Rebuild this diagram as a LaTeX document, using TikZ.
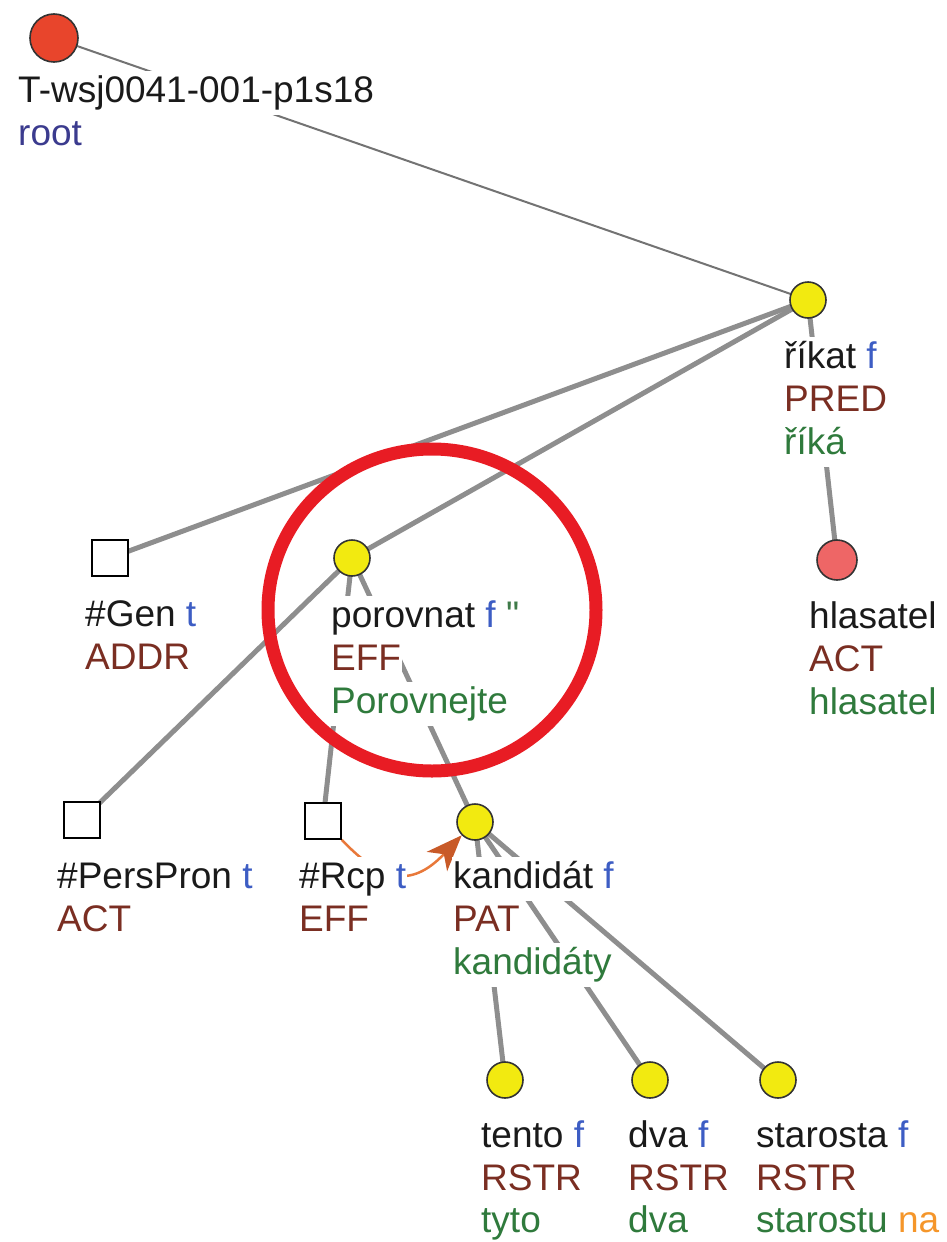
\documentclass[tikz,border=0pt]{standalone}
\usepackage{fontspec}
\setmainfont{Liberation Sans}
\newfontfamily\plainquote{Liberation Sans}
\usetikzlibrary{arrows.meta}
\pgfdeclarelayer{background}
\pgfsetlayers{background,main}
\definecolor{txtblack}{HTML}{1A1A1A}
\definecolor{tblue}{HTML}{3D5DC4}
\definecolor{fbrown}{HTML}{7A2E22}
\definecolor{wgreen}{HTML}{2F7A3C}
\definecolor{rootblue}{HTML}{3B3B8E}
\definecolor{naorange}{HTML}{F5962A}
\definecolor{edgegray}{HTML}{8E8E8E}
\definecolor{nodeyellow}{HTML}{F2EA10}
\definecolor{rootred}{HTML}{E8452C}
\definecolor{pinkred}{HTML}{EE6666}
\definecolor{ringred}{HTML}{E81C24}
\definecolor{corefline}{HTML}{E8783A}
\definecolor{corefhead}{HTML}{C85A28}
\begin{document}
\begin{tikzpicture}[x=1pt,y=-1pt,
  font=\fontsize{37}{44}\selectfont,
  tnode/.style={circle, draw=black!80, line width=1.6pt, minimum size=36pt, inner sep=0pt, fill=nodeyellow},
  hnode/.style={rectangle, draw=black, line width=1.6pt, minimum size=36pt, inner sep=0pt, fill=white},
  row/.style={anchor=base west, fill=white, text=txtblack, inner xsep=1pt, inner ysep=0pt, text height=31pt, text depth=13pt},
  treeedge/.style={draw=edgegray, line width=5pt},
  rootedge/.style={draw=black!55, line width=2pt},
  coref/.style={draw=corefline, line width=2.5pt, -{Stealth[length=36pt,width=28pt,inset=10pt,color=corefhead,fill=corefhead]}}
]
\useasboundingbox (0,0) rectangle (946,1242);

% node shapes
\node[circle, draw=black!80, line width=1.6pt, fill=rootred, minimum size=48pt, inner sep=0pt] (root) at (54,38) {};
\node[tnode] (rikat) at (808,300) {};
\node[circle, draw=black!80, line width=1.6pt, fill=pinkred, minimum size=40pt, inner sep=0pt] (hlas) at (837,560) {};
\node[hnode] (gen) at (110,558) {};
\node[tnode] (porov) at (352,558) {};
\node[hnode] (pers) at (82,820) {};
\node[hnode] (rcp) at (323,821) {};
\node[tnode] (kand) at (475,822) {};
\node[tnode] (tento) at (505,1080) {};
\node[tnode] (dva) at (650,1080) {};
\node[tnode] (star) at (778,1080) {};

% edges
\begin{pgfonlayer}{background}
\draw[rootedge] (root.center) -- (rikat.center);
\draw[treeedge] (rikat.center) -- (gen.center);
\draw[treeedge] (rikat.center) -- (porov.center);
\draw[treeedge] (rikat.center) -- (hlas.center);
\draw[treeedge] (porov.center) -- (pers.center);
\draw[treeedge] (porov.center) -- (rcp.center);
\draw[treeedge] (porov.center) -- (kand.center);
\draw[treeedge] (kand.center) -- (tento.center);
\draw[treeedge] (kand.center) -- (dva.center);
\draw[treeedge] (kand.center) -- (star.center);
\draw[coref] (rcp.south east) .. controls (380,880) and (410,890) .. (kand.south west);
\end{pgfonlayer}

% labels
\node[row] (root-a) at (17,102) {T-wsj0041-001-p1s18};
\node[row] (root-b) at (17,145) {\textcolor{rootblue}{root}};

\node[row] (rikat-a) at (783,368) {říkat \textcolor{tblue}{f}};
\node[row] (rikat-b) at (783,411) {\textcolor{fbrown}{PRED}};
\node[row] (rikat-c) at (783,454) {\textcolor{wgreen}{říká}};

\node[row] (hlas-a) at (808,628) {hlasatel};
\node[row] (hlas-b) at (808,671) {\textcolor{fbrown}{ACT}};
\node[row] (hlas-c) at (808,714) {\textcolor{wgreen}{hlasatel}};

\node[row] (gen-a) at (84,626) {\#Gen \textcolor{tblue}{t}};
\node[row] (gen-b) at (84,669) {\textcolor{fbrown}{ADDR}};

\node[row] (porov-a) at (330,627) {porovnat \textcolor{tblue}{f} \textcolor{wgreen!80!gray}{\plainquote "}};
\node[row] (porov-b) at (330,670) {\textcolor{fbrown}{EFF}};
\node[row] (porov-c) at (330,713) {\textcolor{wgreen}{Porovnejte}};

\node[row] (pers-a) at (56,888) {\#PersPron \textcolor{tblue}{t}};
\node[row] (pers-b) at (56,931) {\textcolor{fbrown}{ACT}};

\node[row] (rcp-a) at (298,888) {\#Rcp \textcolor{tblue}{t}};
\node[row] (rcp-b) at (298,931) {\textcolor{fbrown}{EFF}};

\node[row] (kand-a) at (452,888) {kandidát \textcolor{tblue}{f}};
\node[row] (kand-b) at (452,931) {\textcolor{fbrown}{PAT}};
\node[row] (kand-c) at (452,974) {\textcolor{wgreen}{kandidáty}};

\node[row] (tento-a) at (480,1147) {tento \textcolor{tblue}{f}};
\node[row] (tento-b) at (480,1190) {\textcolor{fbrown}{RSTR}};
\node[row] (tento-c) at (480,1232) {\textcolor{wgreen}{tyto}};

\node[row] (dva-a) at (627,1147) {dva \textcolor{tblue}{f}};
\node[row] (dva-b) at (627,1190) {\textcolor{fbrown}{RSTR}};
\node[row] (dva-c) at (627,1232) {\textcolor{wgreen}{dva}};

\node[row] (star-a) at (755,1147) {starosta \textcolor{tblue}{f}};
\node[row] (star-b) at (755,1190) {\textcolor{fbrown}{RSTR}};
\node[row] (star-c) at (755,1232) {\textcolor{wgreen}{starostu} \textcolor{naorange}{na}};

% highlight ring
\draw[ringred, line width=13pt] (432,610) ellipse [x radius=164pt, y radius=161pt];
\end{tikzpicture}
\end{document}
